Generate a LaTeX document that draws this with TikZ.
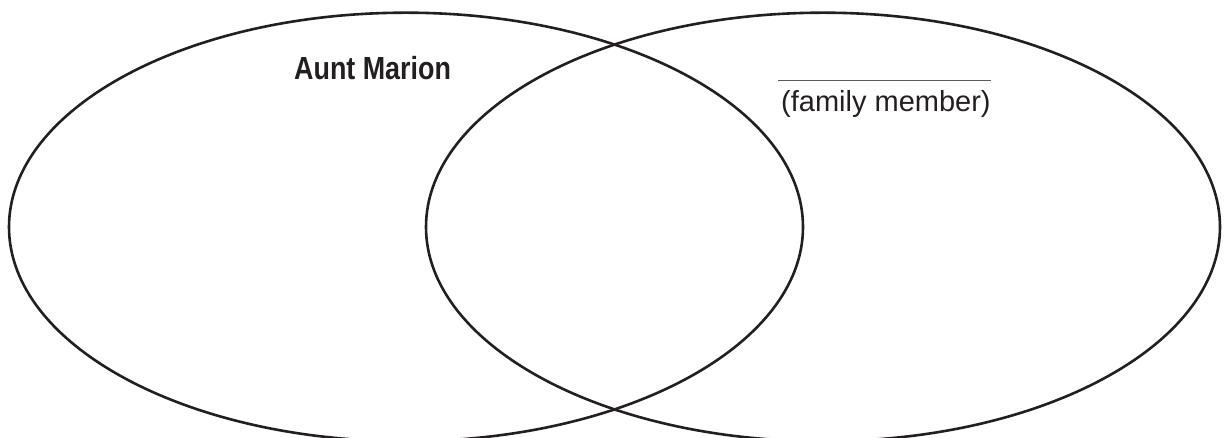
\documentclass[tikz,border=0pt]{standalone}
\usepackage{fontspec}
\setmainfont{Liberation Sans}
\newfontfamily\condbold[FakeStretch=0.84]{Liberation Sans Bold}
\newfontfamily\plainsans{Liberation Sans}
\definecolor{ink}{HTML}{231F20}
\begin{document}
\begin{tikzpicture}[x=1pt,y=1pt,
  vennset/.style={draw=ink,line width=2.6pt},
  titletext/.style={inner sep=0pt,anchor=base west,text=ink,font=\condbold\fontsize{32}{36}\selectfont},
  labeltext/.style={inner sep=0pt,anchor=base west,text=ink,font=\plainsans\fontsize{29}{33}\selectfont},
  blankline/.style={draw=black!65,line width=1.6pt}]
\useasboundingbox (0,0) rectangle (1227,438);
\clip (0,0) rectangle (1227,438);
\draw[vennset] (406,211) ellipse [x radius=397, y radius=214.3];
\draw[vennset] (823,211) ellipse [x radius=397, y radius=214.3];
\node[titletext] (aunt) at (294,358) {Aunt Marion};
\node[labeltext] (member) at (781,326) {(family member)};
\coordinate (lineL) at (778,357.3);
\coordinate (lineR) at (991,357.3);
\draw[blankline] (lineL) -- (lineR);
\end{tikzpicture}
\end{document}
